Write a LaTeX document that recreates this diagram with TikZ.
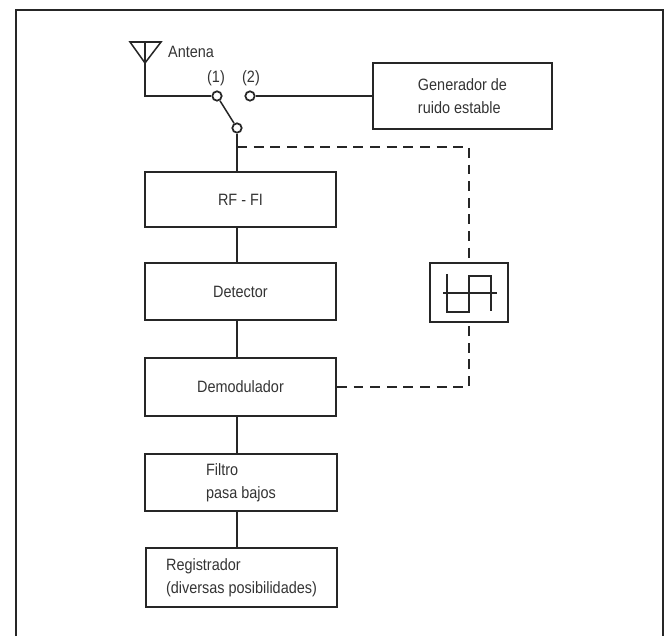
\documentclass[tikz,border=0pt]{standalone}
\usepackage{fontspec}
\setmainfont[FakeStretch=0.88]{Liberation Sans}
\usetikzlibrary{positioning}

\begin{document}
\begin{tikzpicture}[black!85,
 font=\fontsize{14}{19.5}\selectfont,
 block/.style={draw,line width=1.5pt,align=left,inner sep=0pt,text=black!80},
 wire/.style={line width=1.3pt},
 ctrl/.style={line width=1.5pt,dash pattern=on 8.5pt off 5.7pt},
 contact/.style={draw,circle,line width=1.5pt,fill=white,minimum size=.28cm,inner sep=0pt}]
\useasboundingbox (0,0) rectangle (20.07,19.08);
\draw[line width=1.6pt] (.48,0)|-(19.89,18.78)--(19.89,0);
\node[block,minimum width=5.73cm,minimum height=1.65cm] (rffi) at (7.215,13.095) {RF - FI};
\node[block,minimum width=5.73cm,minimum height=1.71cm] (detector) at (7.215,10.335) {Detector};
\node[block,minimum width=5.73cm,minimum height=1.74cm] (demod) at (7.215,7.47) {Demodulador};
\node[block,minimum width=5.76cm,minimum height=1.71cm] (filtro) at (7.23,4.605) {Filtro\\pasa bajos};
\node[block,minimum width=5.73cm,minimum height=1.77cm] (registro) at (7.245,1.755) {Registrador\\(diversas posibilidades)};
\node[block,minimum width=5.37cm,minimum height=1.98cm] (generador) at (13.875,16.2) {Generador de\\ruido estable};
\node[block,minimum width=2.34cm,minimum height=1.77cm] (histeresis) at (14.07,10.305) {};
\node[contact] (uno) at (6.51,16.2) {};
\node[contact] (dos) at (7.5,16.2) {};
\node[contact] (comun) at (7.11,15.24) {};
\node[text=black!80,anchor=west,inner sep=0pt] (antena) at (5.04,17.52) {Antena};
\node[text=black!80,inner sep=0pt] (luno) at (6.48,16.74) {(1)};
\node[text=black!80,inner sep=0pt] (ldos) at (7.53,16.74) {(2)};
\coordinate (mastil) at (4.35,17.82);
\coordinate (codo) at (4.35,16.2);
\coordinate (punta) at (4.35,17.19);
\coordinate (toma) at (7.11,14.67);
\draw[wire] (3.9,17.82)--(4.83,17.82)--(punta)--cycle;
\draw[wire] (mastil)--(codo)--(uno);
\draw[wire] (uno)--(comun);
\draw[wire] (dos)--(generador);
\draw[wire] (comun)--(comun|-rffi.north);
\draw[wire] (comun|-rffi.south)--(comun|-detector.north);
\draw[wire] (comun|-detector.south)--(comun|-demod.north);
\draw[wire] (comun|-demod.south)--(comun|-filtro.north);
\draw[wire] (comun|-filtro.south)--(comun|-registro.north);
\draw[ctrl] (toma)-|(histeresis.north);
\draw[ctrl] (demod.east)-|(histeresis.south);
\draw[wire] (13.29,10.29)--(14.91,10.29);
\draw[wire] (13.41,10.86)--(13.41,9.72)--(14.07,9.72)--(14.07,10.8)--(14.73,10.8)--(14.73,9.75);
\end{tikzpicture}
\end{document}
